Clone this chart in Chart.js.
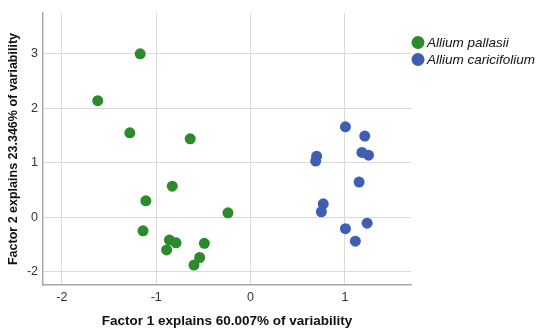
<!DOCTYPE html>
<html>
<head>
<meta charset="utf-8">
<script src="https://cdn.jsdelivr.net/npm/chart.js@4/dist/chart.umd.min.js"></script>
<style>
  html, body { margin: 0; padding: 0; background: #fff; }
</style>
</head>
<body>
<canvas id="pcaChart" width="550" height="333"></canvas>
<script>
// Data
const seriesNames = ['Allium pallasii', 'Allium caricifolium'];
const seriesColors = ['#2b8a2b', '#3e5db3'];

const pallasiiX = [-1.17, -1.62, -1.28, -0.64, -0.83, -1.11, -0.24, -1.14, -0.86, -0.79, -0.49, -0.89, -0.54, -0.60];
const pallasiiY = [3.0, 2.14, 1.55, 1.44, 0.57, 0.30, 0.08, -0.25, -0.42, -0.47, -0.48, -0.60, -0.74, -0.88];

const caricifoliumX = [1.005, 1.21, 1.18, 1.25, 0.70, 0.69, 1.15, 0.77, 0.75, 1.235, 1.005, 1.11];
const caricifoliumY = [1.66, 1.49, 1.19, 1.14, 1.12, 1.03, 0.645, 0.245, 0.10, -0.11, -0.21, -0.44];

const xTickValues = [-2, -1, 0, 1];
const xTickLabels = ['-2', '-1', '0', '1'];
const yTickValues = [-1, 0, 1, 2, 3];
const yTickLabels = ['-2', '0', '1', '2', '3'];

const xTitle = 'Factor 1 explains 60.007% of variability';
const yTitle = 'Factor 2 explains 23.346% of variability';

const FONT = "'Liberation Sans', Arial, sans-serif";

const toPoints = (xs, ys) => xs.map((x, i) => ({ x: x, y: ys[i] }));

// Legend drawn to the right of the plot
const sideLegend = {
  id: 'sideLegend',
  afterDraw(chart) {
    const c = chart.ctx;
    const left = chart.chartArea.right + 7;
    c.save();
    c.font = "italic 13.5px " + FONT;
    c.textBaseline = 'middle';
    chart.data.datasets.forEach((ds, i) => {
      const y = 42.5 + i * 17;
      c.beginPath();
      c.arc(left, y, 6.5, 0, Math.PI * 2);
      c.fillStyle = ds.backgroundColor;
      c.fill();
      c.fillStyle = '#111';
      c.fillText(ds.label, left + 9, y + 0.5);
    });
    c.restore();
  }
};

const ctx = document.getElementById('pcaChart').getContext('2d');

new Chart(ctx, {
  type: 'scatter',
  data: {
    datasets: [{
      label: seriesNames[0],
      data: toPoints(pallasiiX, pallasiiY),
      backgroundColor: seriesColors[0],
      borderColor: seriesColors[0],
      borderWidth: 0,
      pointRadius: 5.5
    }, {
      label: seriesNames[1],
      data: toPoints(caricifoliumX, caricifoliumY),
      backgroundColor: seriesColors[1],
      borderColor: seriesColors[1],
      borderWidth: 0,
      pointRadius: 5.5
    }]
  },
  options: {
    responsive: false,
    animation: false,
    layout: { padding: { top: 13, right: 139, left: 0, bottom: 0 } },
    plugins: {
      legend: { display: false },
      tooltip: { enabled: false }
    },
    scales: {
      x: {
        type: 'linear',
        min: -2.2,
        max: 1.7,
        afterBuildTicks: scale => { scale.ticks = xTickValues.map(v => ({ value: v })); },
        afterFit: scale => { scale.height = 48; },
        ticks: {
          padding: 5,
          color: '#333',
          font: { family: FONT, size: 12.5 },
          callback: (value) => xTickLabels[xTickValues.indexOf(value)]
        },
        grid: { color: '#dadada', lineWidth: 1, drawTicks: false },
        border: { color: '#a8a8a8', width: 1.5 },
        title: {
          display: true,
          text: xTitle,
          color: '#111',
          font: { family: FONT, size: 13.5, weight: 'bold' },
          padding: { top: 0, bottom: 4 }
        }
      },
      y: {
        type: 'linear',
        min: -1.245,
        max: 3.75,
        afterBuildTicks: scale => { scale.ticks = yTickValues.map(v => ({ value: v })); },
        afterFit: scale => { scale.width = 43; },
        ticks: {
          padding: 5,
          color: '#333',
          font: { family: FONT, size: 12.5 },
          callback: (value) => yTickLabels[yTickValues.indexOf(value)]
        },
        grid: { color: '#dadada', lineWidth: 1, drawTicks: false },
        border: { color: '#a8a8a8', width: 1.5 },
        title: {
          display: true,
          text: yTitle,
          color: '#111',
          font: { family: FONT, size: 12.5, weight: 'bold' },
          padding: { top: 6, bottom: 0 }
        }
      }
    }
  },
  plugins: [sideLegend]
});
</script>
</body>
</html>
